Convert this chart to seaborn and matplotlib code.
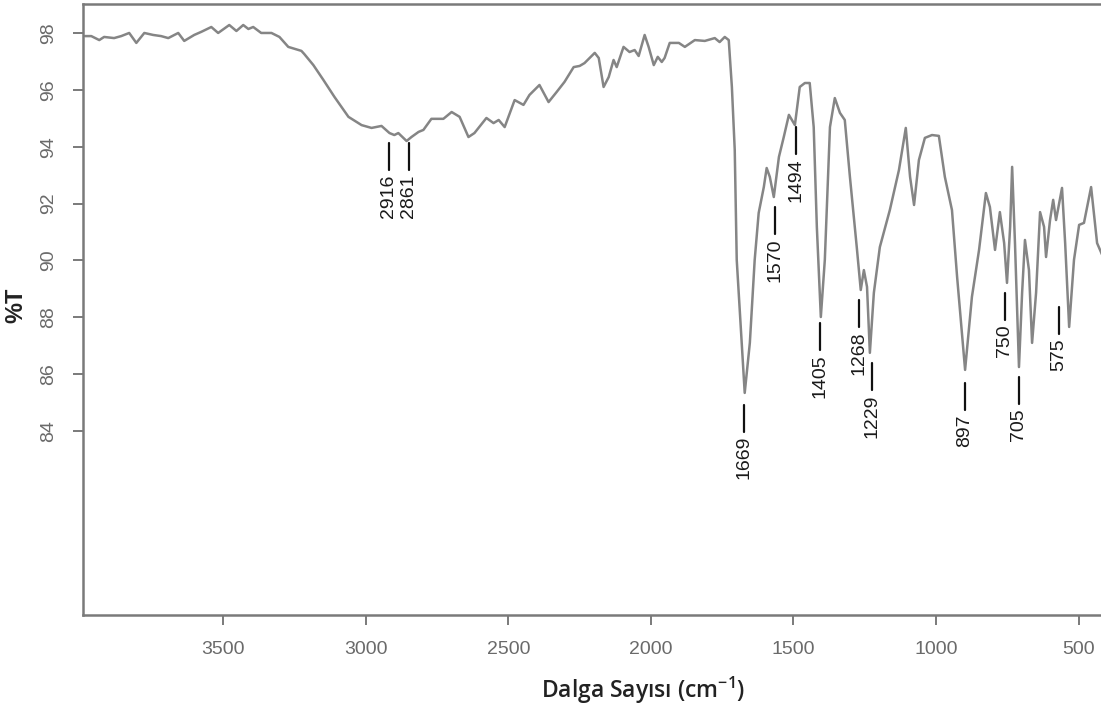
import pandas as pd
import matplotlib.pyplot as plt
import seaborn as sns

sns.set_style('ticks')
plt.rcParams['font.family'] = ['DejaVu Sans Condensed', 'Liberation Sans']
plt.rcParams['mathtext.default'] = 'regular'

# FTIR spectrum (wavenumber cm-1, %T)
wavenumber = [3985, 3963, 3935, 3918, 3883, 3858, 3830, 3805, 3777, 3746,
              3718, 3693, 3658, 3637, 3602, 3577, 3542, 3518, 3479, 3454,
              3430, 3412, 3395, 3367, 3331, 3303, 3272, 3226, 3216, 3184,
              3149, 3110, 3061, 3015, 2980, 2945, 2917, 2900, 2886, 2857,
              2840, 2815, 2798, 2770, 2728, 2699, 2671, 2640, 2619, 2577,
              2552, 2534, 2513, 2478, 2447, 2426, 2391, 2359, 2331, 2303,
              2271, 2250, 2233, 2197, 2183, 2166, 2148, 2131, 2120, 2096,
              2075, 2057, 2043, 2022, 2008, 1990, 1976, 1962, 1952, 1934,
              1902, 1881, 1846, 1811, 1776, 1759, 1741, 1727, 1716, 1706,
              1699, 1671, 1653, 1636, 1622, 1604, 1594, 1583, 1569, 1551,
              1534, 1516, 1495, 1478, 1460, 1443, 1429, 1418, 1404, 1390,
              1372, 1355, 1337, 1320, 1302, 1278, 1264, 1253, 1242, 1232,
              1218, 1197, 1162, 1130, 1106, 1091, 1077, 1060, 1039, 1014,
              990, 969, 944, 926, 898, 874, 849, 825, 811, 793,
              776, 761, 751, 740, 733, 723, 709, 698, 688, 674,
              663, 649, 635, 621, 614, 600, 589, 579, 558, 547,
              533, 516, 498, 481, 456, 435, 414]
transmittance = [97.89, 97.89, 97.75, 97.86, 97.82, 97.89, 98.00, 97.65, 98.00, 97.93,
                 97.89, 97.82, 98.00, 97.72, 97.93, 98.04, 98.21, 98.00, 98.28, 98.07,
                 98.28, 98.14, 98.21, 98.00, 98.00, 97.86, 97.51, 97.37, 97.26, 96.87,
                 96.35, 95.75, 95.05, 94.76, 94.66, 94.73, 94.48, 94.41, 94.48, 94.20,
                 94.34, 94.52, 94.59, 94.98, 94.98, 95.22, 95.05, 94.34, 94.48, 95.01,
                 94.83, 94.94, 94.69, 95.64, 95.47, 95.82, 96.17, 95.57, 95.92, 96.28,
                 96.80, 96.84, 96.94, 97.30, 97.12, 96.10, 96.45, 97.05, 96.80, 97.51,
                 97.33, 97.40, 97.19, 97.93, 97.51, 96.87, 97.16, 96.98, 97.12, 97.65,
                 97.65, 97.51, 97.75, 97.72, 97.82, 97.68, 97.86, 97.75, 96.10, 93.89,
                 90.02, 85.34, 87.10, 90.02, 91.67, 92.58, 93.25, 92.94, 92.23, 93.64,
                 94.34, 95.12, 94.76, 96.10, 96.24, 96.24, 94.69, 91.18, 88.01, 90.02,
                 94.69, 95.71, 95.19, 94.94, 92.94, 90.47, 88.96, 89.66, 89.07, 86.75,
                 88.86, 90.47, 91.77, 93.18, 94.66, 92.94, 91.95, 93.53, 94.31, 94.41,
                 94.38, 92.94, 91.77, 89.42, 86.15, 88.72, 90.37, 92.37, 91.88, 90.37,
                 91.70, 90.61, 89.21, 91.18, 93.29, 90.61, 86.25, 88.86, 90.72, 89.66,
                 87.10, 88.86, 91.70, 91.18, 90.12, 91.42, 92.13, 91.42, 92.55, 90.61,
                 87.66, 90.02, 91.25, 91.32, 92.58, 90.61, 90.12]

# peak annotations: label, where its marker sits (wavenumber), %T at top of the marker
peak_labels = ['2916', '2861', '1669', '1570', '1494', '1405',
               '1268', '1229', '897', '750', '705', '575']
peak_mark = [2920, 2850, 1674, 1564, 1490, 1406, 1269, 1226, 900, 759, 710, 569]
peak_top = [94.13, 94.13, 84.92, 91.88, 94.69, 87.80,
            88.61, 86.39, 85.68, 88.86, 85.90, 88.36]

x_ticks = [3500, 3000, 2500, 2000, 1500, 1000, 500]
y_ticks = [84, 86, 88, 90, 92, 94, 96, 98]

df = pd.DataFrame({'wn': wavenumber, 'T': transmittance})

fig = plt.figure(figsize=(11.01, 7.08), dpi=100)
ax = fig.add_axes([0.0754, 0.1314, 0.927, 0.863])
sns.lineplot(data=df, x='wn', y='T', ax=ax, sort=False, estimator=None,
             color='#858585', linewidth=1.8)

line_len = 0.95
for lab, p, top in zip(peak_labels, peak_mark, peak_top):
    ax.plot([p, p], [top, top - line_len], color='#111111', linewidth=1.6)
    ax.annotate(lab, (p, top - line_len), xytext=(0, -3), textcoords='offset points',
                rotation=90, ha='center', va='top', fontsize=14, color='#1a1a1a')

ax.set_xlim(3992, 412)
ax.set_ylim(77.53, 99.02)
ax.set_xticks(x_ticks)
ax.set_yticks(y_ticks)
ax.set_xticklabels([str(t) for t in x_ticks], fontsize=14, color='#6a6a6a')
ax.set_yticklabels([str(t) for t in y_ticks], fontsize=14, color='#6a6a6a',
                   rotation=90, va='center')
ax.tick_params(axis='both', length=7, width=1.4, color='#7a7a7a')
ax.tick_params(axis='y', pad=12)
ax.tick_params(axis='x', pad=12)

for side in ['left', 'bottom', 'top']:
    ax.spines[side].set_color('#7a7a7a')
    ax.spines[side].set_linewidth(1.8)
ax.spines['right'].set_visible(False)

ax.set_xlabel('Dalga Sayısı (cm$^{-1}$)', fontsize=16.5, family=['Open Sans', 'DejaVu Sans'],
              fontweight='semibold', color='#222222')
ax.set_ylabel('%T', fontsize=17, family=['Liberation Sans', 'DejaVu Sans'],
              fontweight='bold', color='#222222')
ax.xaxis.set_label_coords(0.549, -0.098)
ax.yaxis.set_label_coords(-0.055, 0.506)

plt.savefig('out.png', dpi=100)
